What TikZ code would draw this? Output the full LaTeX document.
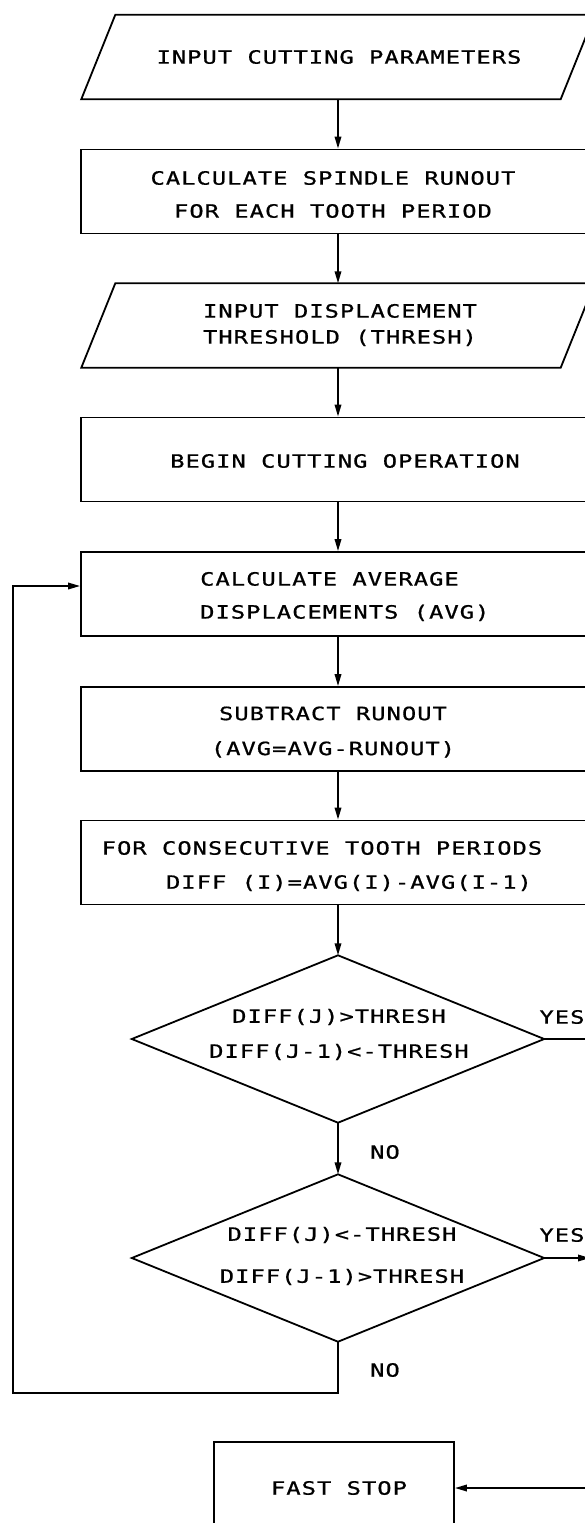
\documentclass[tikz,border=0pt]{standalone}
\usepackage{fontspec}
\usetikzlibrary{arrows.meta,calc}
\newfontfamily\plotfont[LetterSpace=5.5,FakeStretch=1.3,FakeBold=0.8]{DejaVu Sans Mono}
\begin{document}
\begin{tikzpicture}[x=1pt,y=-1pt,
  lw/.style={line width=1.8pt},
  lead/.style={font=\plotfont\fontsize{18.3pt}{#1}\selectfont},
  txt/.style={lead=20pt, inner sep=0pt, align=center},
  proc/.style={draw, lw, minimum width=514pt, minimum height=84pt, inner sep=0pt},
  iobox/.style={minimum width=479pt, minimum height=84pt, inner sep=0pt},
  decbox/.style={minimum width=412pt, minimum height=167pt, inner sep=0pt},
  flow/.style={lw, -{Triangle[length=12pt,width=6.5pt]}},
  conn/.style={lw}
]
\useasboundingbox (0,0) rectangle (585,1523);
\clip (0,0) rectangle (585,1523);

% shapes
\node[iobox] (p1) at (338,57)    {};
\node[proc]  (b2) at (338,191.5) {};
\node[iobox] (p3) at (338,325.5) {};
\node[proc]  (b4) at (338,459.5) {};
\node[proc]  (b5) at (338,594)   {};
\node[proc]  (b6) at (338,729)   {};
\node[proc]  (b7) at (338,862.5) {};
\node[decbox] (d1) at (338,1039)  {};
\node[decbox] (d2) at (338,1258)  {};
\node[draw, lw, minimum width=240pt, minimum height=92pt] (fs) at (334,1488) {};

\foreach \p in {p1,p3}{
  \draw[lw] ([xshift=-17pt]\p.south west) -- ([xshift=-17pt]\p.south east)
    -- ([xshift=17pt]\p.north east) -- ([xshift=17pt]\p.north west) -- cycle;
}
\foreach \d in {d1,d2}{
  \draw[lw] (\d.north) -- (\d.east) -- (\d.south) -- (\d.west) -- cycle;
}

% texts
\node[txt] (t1) at (339,57) {INPUT CUTTING PARAMETERS};
\node[txt, lead=33pt] (t2) at (333,194.5) {CALCULATE SPINDLE RUNOUT\\FOR EACH TOOTH PERIOD};
\node[txt, lead=26pt] (t3) at (340,325) {INPUT DISPLACEMENT\\THRESHOLD (THRESH)};
\node[txt] (t4) at (345,461) {BEGIN CUTTING OPERATION};
\node[txt, lead=33pt, align=left, anchor=west] (t5) at (200,596.5) {CALCULATE AVERAGE\\DISPLACEMENTS (AVG)};
\node[txt, lead=35pt] (t6) at (333,732) {SUBTRACT RUNOUT\\(AVG=AVG-RUNOUT)};
\node[txt] (t7a) at (322,848) {FOR CONSECUTIVE TOOTH PERIODS};
\node[txt] (t7b) at (349,883) {DIFF (I)=AVG(I)-AVG(I-1)};
\node[txt, lead=35pt] (t8) at (339,1034.5) {DIFF(J)>THRESH\\DIFF(J-1)<-THRESH};
\node[txt, lead=42pt] (t9) at (342,1256) {DIFF(J)<-THRESH\\DIFF(J-1)>THRESH};
\node[txt] (t10) at (339,1488) {FAST STOP};
\node[txt] (yes1) at (562,1017) {YES};
\node[txt] (yes2) at (562,1235) {YES};
\node[txt] (no1) at (385,1152) {NO};
\node[txt] (no2) at (385,1370) {NO};

% off-picture ends
\coordinate (y1end) at (610,1039);
\coordinate (y2end) at (590,1258);
\coordinate (fsin) at (610,1488);
\coordinate (lp1) at (338,1393);
\coordinate (lp2) at (13,1393);
\coordinate (lp3) at (13,586);

% connectors
\draw[flow] (p1.south) -- (b2.north);
\draw[flow] (b2.south) -- (p3.north);
\draw[flow] (p3.south) -- (b4.north);
\draw[flow] (b4.south) -- (b5.north);
\draw[flow] (b5.south) -- (b6.north);
\draw[flow] (b6.south) -- (b7.north);
\draw[flow] (b7.south) -- (d1.north);
\draw[flow] (d1.south) -- (d2.north);
\draw[flow] (d2.south) -- (lp1) -- (lp2) -- (lp3) -- (lp3 -| b5.west);
\draw[conn] (d1.east) -- (y1end);
\draw[flow] (d2.east) -- (y2end);
\draw[flow] (fsin) -- (fs.east);
\end{tikzpicture}
\end{document}
